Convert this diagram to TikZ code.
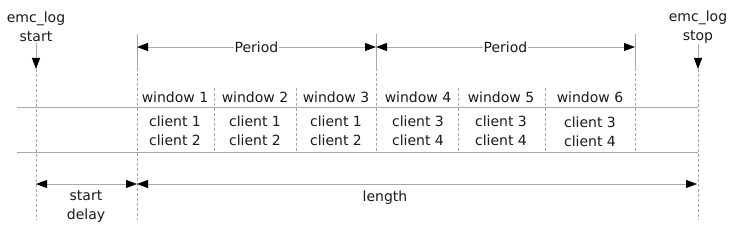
\documentclass[tikz,border=0pt]{standalone}
\usepackage{fontspec}
\setmainfont{DejaVu Sans}
\usetikzlibrary{positioning,arrows.meta}
\definecolor{rule}{HTML}{A8A8A8}
\definecolor{ink}{HTML}{1A1A1A}

\begin{document}
\begin{tikzpicture}[x=1pt, y=-1pt,
      lbl/.style={font=\fontsize{14}{19}\selectfont, text=ink, align=center,
      inner sep=1pt},
      tick/.style={draw=rule, line width=0.9pt},
      guide/.style={draw=rule, line width=0.7pt, dash pattern=on 3pt off 2pt},
      band/.style={draw=rule, line width=0.9pt},
      dim/.style={{Triangle[length=11pt,width=8pt,color=black]}-{Triangle[length=11pt,width=8pt,color=black]},
      draw=rule, line width=0.9pt},
      marker/.style={-{Triangle[length=11pt,width=8pt,color=black]}, draw=rule,
      line width=0.9pt},
    ]
    \useasboundingbox (0,0) rectangle (733,237);

    % start / stop markers
    \node[lbl] (start) at (36,27) {emc\_log\\start};
    \node[lbl] (stop) at (698,27) {emc\_log\\stop};
    \coordinate (starttip) at (36,69);
    \coordinate (stoptip) at (698,69);
    \coordinate (startbot) at (36,220);
    \coordinate (stopbot) at (698,220);
    \draw[marker] (start) -- (starttip);
    \draw[marker] (stop) -- (stoptip);
    \draw[guide] (starttip) -- (startbot);
    \draw[guide] (stoptip) -- (stopbot);

    % period boundaries
    \coordinate (p0top) at (137,34);
    \coordinate (p0mid) at (137,68);
    \coordinate (p0bot) at (137,220);
    \coordinate (p1top) at (376,34);
    \coordinate (p1mid) at (376,68);
    \coordinate (p1bot) at (376,152);
    \coordinate (p2top) at (635,34);
    \coordinate (p2mid) at (635,68);
    \coordinate (p2bot) at (635,152);
    \draw[tick] (p0top) -- (p0mid);
    \draw[tick] (p1top) -- (p1mid);
    \draw[tick] (p2top) -- (p2mid);
    \draw[guide] (p0mid) -- (p0bot);
    \draw[guide] (p1mid) -- (p1bot);
    \draw[guide] (p2mid) -- (p2bot);

    % periods
    \coordinate (a0) at (137,47);
    \coordinate (a1) at (376,47);
    \coordinate (a2) at (635,47);
    \draw[dim] (a0) -- node[lbl, fill=white, inner sep=1pt] (per1) {Period} (a1);
    \draw[dim] (a1) -- node[lbl, fill=white, inner sep=1pt] (per2) {Period} (a2);

    % windows
    \node[lbl] (w1) at (175,97) {window 1};
    \node[lbl] (w2) at (255,97) {window 2};
    \node[lbl] (w3) at (336,97) {window 3};
    \node[lbl] (w4) at (418,97) {window 4};
    \node[lbl] (w5) at (501,97) {window 5};
    \node[lbl] (w6) at (590,97) {window 6};
    \node[lbl] (c1) at (175,131) {client 1\\client 2};
    \node[lbl] (c2) at (255,131) {client 1\\client 2};
    \node[lbl] (c3) at (336,131) {client 1\\client 2};
    \node[lbl] (c4) at (418,131) {client 3\\client 4};
    \node[lbl] (c5) at (501,131) {client 3\\client 4};
    \node[lbl] (c6) at (590,132) {client 3\\client 4};

    % window dividers
    \foreach \x [count=\i] in {214,296,458,545} {
      \coordinate (d\i top) at (\x,88);
      \coordinate (d\i bot) at (\x,152);
      \draw[guide] (d\i top) -- (d\i bot);
    }

    % rows
    \coordinate (r1l) at (17,107);
    \coordinate (r1r) at (698,107);
    \coordinate (r2l) at (17,152);
    \coordinate (r2r) at (698,152);
    \draw[band] (r1l) -- (r1r);
    \draw[band] (r2l) -- (r2r);

    % start delay and length
    \coordinate (b0) at (36,184);
    \coordinate (b1) at (137,184);
    \coordinate (b2) at (697,184);
    \draw[dim] (b0) -- (b1);
    \draw[dim] (b1) -- (b2);
    \node[lbl] (delay) at (86,207) {start\\delay};
    \node[lbl] (len) at (385,198) {length};
  \end{tikzpicture}
\end{document}
